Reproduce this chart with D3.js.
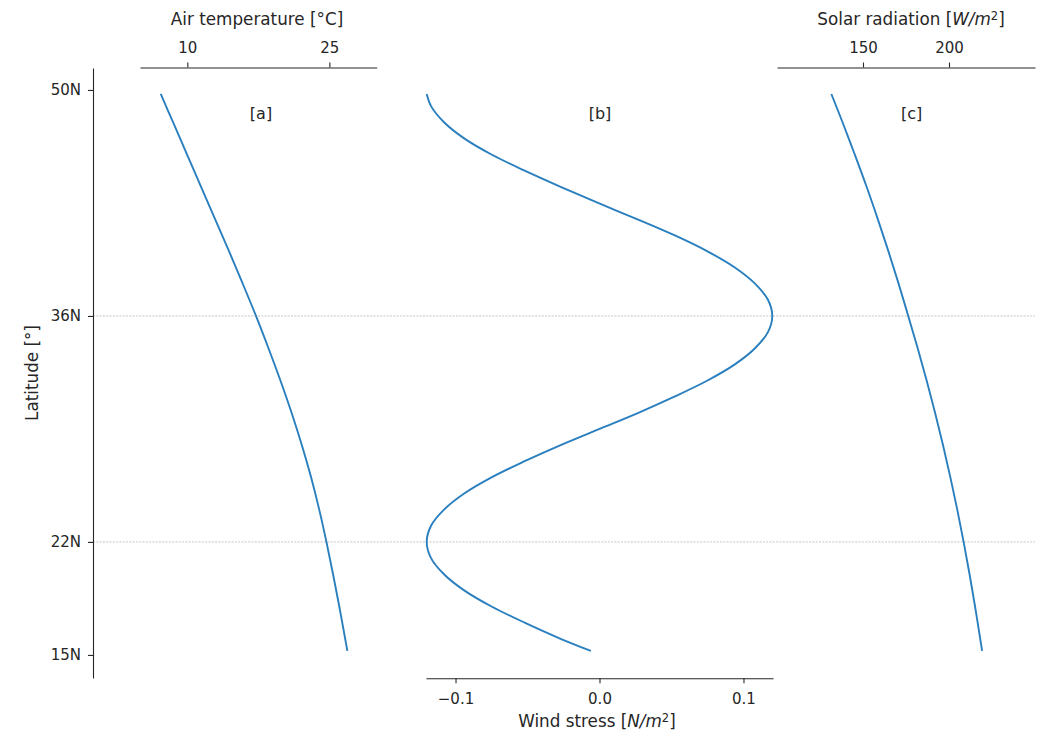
<!DOCTYPE html>
<html>
<head>
<meta charset="utf-8">
<script src="https://cdn.jsdelivr.net/npm/d3@7"></script>
<style>
  body { margin: 0; background: #fff; }
  svg { font-family: "DejaVu Sans", sans-serif; }
</style>
</head>
<body>
<svg id="canvas" width="1045" height="734"></svg>
<script>
// latitudes (deg N) for temperature and radiation profiles
let lat = [49.75, 48, 46, 44, 42, 40, 38, 36, 34, 32, 30, 28, 26, 24, 22, 20, 18, 16, 15.25]
let airTemp = [7.19, 8.49, 9.97, 11.45, 12.93, 14.41, 15.85, 17.25, 18.57, 19.83, 21.01, 22.09, 23.07, 23.93, 24.69, 25.39, 26.05, 26.67, 26.9]
let solarRad = [131.6, 138.1, 145.2, 152.1, 158.6, 164.8, 170.7, 176.3, 181.8, 187.0, 191.9, 196.5, 200.8, 204.8, 208.5, 211.95, 215.15, 218.15, 219.25]

// wind stress profile
let latWind = [49.75, 49, 48, 47, 46, 45, 44, 43, 42, 41, 40, 39, 38, 37, 36, 35, 34, 33, 32, 31, 30, 29, 28, 27, 26, 25, 24, 23, 22, 21, 20, 19, 18, 17, 16, 15.25]
let windStress = [-0.120, -0.117, -0.108, -0.094, -0.075, -0.052, -0.027, -0.001, 0.026, 0.052, 0.075, 0.094, 0.108, 0.117, 0.120, 0.117, 0.108, 0.094, 0.075, 0.052, 0.027, 0.000, -0.027, -0.052, -0.075, -0.094, -0.108, -0.117, -0.120, -0.117, -0.108, -0.094, -0.075, -0.052, -0.027, -0.006]

let latTicks = [50, 36, 22, 15]
let latTickLabels = ['50N', '36N', '22N', '15N']
let refLats = [36, 22]
let tempTicks = [10, 25]
let windTicks = [-0.1, 0.0, 0.1]
let solarTicks = [150, 200]

let canvas = d3.select('#canvas')
let textColor = '#262626'
let lineColor = '#2a7fbe'

let y = d3.scaleLinear().domain([13.57, 51.36]).range([678, 68])
let xT = d3.scaleLinear().domain([5, 30]).range([140, 376.7])
let xW = d3.scaleLinear().domain([-0.1205, 0.1205]).range([426, 773])
let xS = d3.scaleLinear().domain([100, 250]).range([777, 1035])

// dotted reference latitudes
canvas.selectAll('line.ref')
    .data(refLats)
    .enter()
    .append('line')
    .attr('class', 'ref')
    .attr('x1', 93).attr('x2', 1035)
    .attr('y1', d => y(d)).attr('y2', d => y(d))
    .attr('stroke', '#b5b5b5')
    .attr('stroke-width', 0.8)
    .attr('stroke-dasharray', '2,1.3')

let styleAxis = (g, size) => {
    g.selectAll('path.domain').attr('stroke', textColor).attr('stroke-width', 1.1)
    g.selectAll('.tick line').attr('stroke', textColor).attr('stroke-width', 1.1)
    g.selectAll('.tick text').attr('fill', textColor).style('font-size', size + 'px')
    g.attr('font-family', null)
}

// latitude axis
let gy = canvas.append('g')
    .attr('transform', 'translate(93,0)')
    .call(d3.axisLeft(y).tickValues(latTicks).tickFormat((d, i) => latTickLabels[i])
        .tickSize(5).tickSizeOuter(0).tickPadding(7))
styleAxis(gy, 15)

// air temperature axis (top)
let ga = canvas.append('g')
    .attr('transform', 'translate(0,67.5)')
    .call(d3.axisTop(xT).tickValues(tempTicks).tickSize(5).tickSizeOuter(0).tickPadding(9.5))
styleAxis(ga, 15)

// wind stress axis (bottom)
let gb = canvas.append('g')
    .attr('transform', 'translate(0,678.3)')
    .call(d3.axisBottom(xW).tickValues(windTicks).tickFormat(d3.format('.1f'))
        .tickSize(5).tickSizeOuter(0).tickPadding(10))
styleAxis(gb, 15)

// solar radiation axis (top)
let gc = canvas.append('g')
    .attr('transform', 'translate(0,67.5)')
    .call(d3.axisTop(xS).tickValues(solarTicks).tickSize(5).tickSizeOuter(0).tickPadding(9.5))
styleAxis(gc, 15)

// profiles
let drawProfile = (lats, vals, xScale) => {
    let pts = lats.map((l, i) => [xScale(vals[i]), y(l)])
    canvas.append('path')
        .attr('d', d3.line().curve(d3.curveCatmullRom)(pts))
        .attr('fill', 'none')
        .attr('stroke', lineColor)
        .attr('stroke-width', 1.9)
}
drawProfile(lat, airTemp, xT)
drawProfile(latWind, windStress, xW)
drawProfile(lat, solarRad, xS)

// labels
let label = (x, yy, size) => canvas.append('text')
    .attr('x', x).attr('y', yy)
    .attr('text-anchor', 'middle')
    .attr('fill', textColor)
    .style('font-size', size + 'px')

label(257, 25, 16.8).text('Air temperature [°C]')

let lw = label(597, 727, 16.8)
lw.append('tspan').text('Wind stress [')
lw.append('tspan').style('font-style', 'italic').text('N/m')
lw.append('tspan').attr('dy', '-0.42em').style('font-size', '11.5px').text('2')
lw.append('tspan').attr('dy', '0.29em').text(']')

let ls = label(911, 25, 16.8)
ls.append('tspan').text('Solar radiation [')
ls.append('tspan').style('font-style', 'italic').text('W/m')
ls.append('tspan').attr('dy', '-0.42em').style('font-size', '11.5px').text('2')
ls.append('tspan').attr('dy', '0.29em').text(']')

canvas.append('text')
    .attr('transform', 'translate(37.5,373) rotate(-90)')
    .attr('text-anchor', 'middle')
    .attr('fill', textColor)
    .style('font-size', '16.8px')
    .text('Latitude [°]')

label(261, 119, 16).text('[a]')
label(600, 119, 16).text('[b]')
label(911.7, 119, 16).text('[c]')
</script>
</body>
</html>
